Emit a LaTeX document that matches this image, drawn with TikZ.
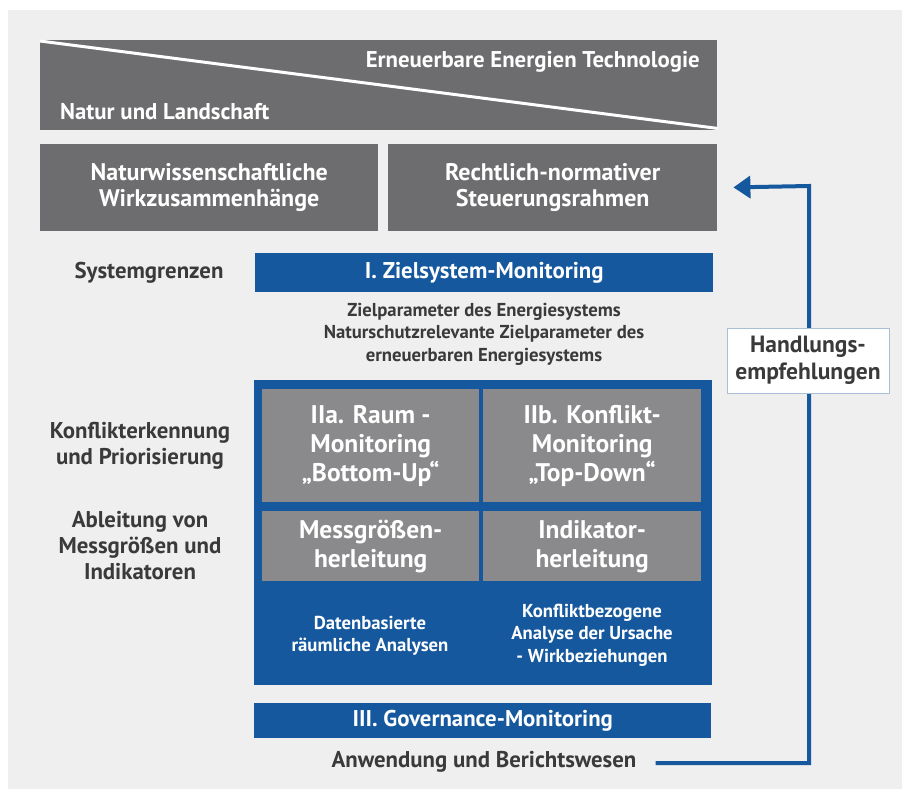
\documentclass[tikz,border=0pt]{standalone}
\usepackage{fontspec}
\setmainfont{PT Sans}
\usetikzlibrary{arrows.meta,positioning}
\definecolor{bgc}{HTML}{EFEFEF}
\definecolor{dgray}{HTML}{6D6D6F}
\definecolor{mgray}{HTML}{8A8A8C}
\definecolor{mblue}{HTML}{15589E}
\definecolor{tdark}{HTML}{3A3A3A}
\definecolor{hbord}{HTML}{A9BFD8}
\tikzset{
  darkbox/.style={fill=dgray, draw=none, inner sep=0pt, anchor=north west, text=white, align=center, font=\bfseries\fontsize{24}{26.5}\selectfont},
  graybox/.style={fill=mgray, draw=none, inner sep=0pt, anchor=north west, text=white, align=center, font=\bfseries\fontsize{25.5}{29}\selectfont},
  bluebar/.style={fill=mblue, draw=none, inner sep=0pt, anchor=north west, text=white, align=center, font=\bfseries\fontsize{22.8}{26}\selectfont},
  lbl/.style={text=tdark, align=center, inner sep=0pt, font=\bfseries\fontsize{22.8}{26}\selectfont},
  smallw/.style={text=white, align=center, inner sep=0pt, font=\bfseries\fontsize{18.7}{22.5}\selectfont},
  smalld/.style={text=tdark, align=center, inner sep=0pt, font=\bfseries\fontsize{18.7}{22.5}\selectfont},
  bantext/.style={text=white, inner sep=0pt, font=\bfseries\fontsize{22.8}{26}\selectfont},
  flow/.style={draw=mblue, line width=4pt, -{Triangle[length=17pt,width=22pt]}},
}
\begin{document}
\begin{tikzpicture}[x=1pt,y=-1pt]
\useasboundingbox (0,0) rectangle (902,789);
\fill[white] (0,0) rectangle (902,789);
\fill[bgc] (8,10) rectangle (902,789);
% banner
\node[darkbox, minimum width=677pt, minimum height=90pt] (banner) at (40,40) {};
\draw[white, line width=3pt] ([yshift=-1pt]banner.north west) -- ([yshift=2pt]banner.south east);
\node[bantext, anchor=east] (ee) at (700,62) {Erneuerbare Energien Technologie};
\node[bantext, anchor=west] (nl) at (60,112) {Natur und Landschaft};
% second row
\node[darkbox, minimum width=338pt, minimum height=87pt] (nw) at (40,144) {Naturwissenschaftliche\\Wirkzusammenhänge};
\node[darkbox, minimum width=329pt, minimum height=87pt] (rs) at (388,144) {Rechtlich-normativer\\Steuerungsrahmen};
% Zielsystem
\node[bluebar, minimum width=458pt, minimum height=39pt] (zs) at (255,253) {I. Zielsystem-Monitoring};
\node[lbl] (sg) at (149,273) {Systemgrenzen};
\node[smalld] (zp) at (484,334) {Zielparameter des Energiesystems\\Naturschutzrelevante Zielparameter des\\erneuerbaren Energiesystems};
% big blue box
\node[fill=mblue, inner sep=0pt, anchor=north west, minimum width=458pt, minimum height=305pt] (bb) at (254,380) {};
\node[graybox, minimum width=217pt, minimum height=113pt] (ra) at (262,389) {IIa. Raum -\\Monitoring\\„Bottom-Up“};
\node[graybox, minimum width=218pt, minimum height=113pt] (ko) at (483,389) {IIb. Konflikt-\\Monitoring\\„Top-Down“};
\node[graybox, minimum width=217pt, minimum height=70pt] (mg) at (262,511) {Messgrößen-\\herleitung};
\node[graybox, minimum width=218pt, minimum height=70pt] (ih) at (483,511) {Indikator-\\herleitung};
\node[smallw] (da) at (370,636) {Datenbasierte\\räumliche Analysen};
\node[smallw] (kb) at (592,635) {Konfliktbezogene\\Analyse der Ursache\\- Wirkbeziehungen};
% left labels
\node[lbl] (kp) at (140,446) {Konflikterkennung\\und Priorisierung};
\node[lbl] (am) at (140,546) {Ableitung von\\Messgrößen und\\Indikatoren};
% governance
\node[bluebar, minimum width=457pt, minimum height=35pt] (gv) at (254,703) {III. Governance-Monitoring};
\node[lbl] (anw) at (484,762) {Anwendung und Berichtswesen};
% feedback arrow
\coordinate (turn) at (809,186);
\draw[flow, shorten >=16pt] ([xshift=19pt,yshift=-1pt]anw.east) -| (turn) -- (rs.east);
\node[fill=white, draw=hbord, line width=0.8pt, inner sep=0pt, minimum width=162pt, minimum height=65pt, text=tdark, align=center, font=\bfseries\fontsize{23.5}{27}\selectfont] (he) at (808,360.5) {Handlungs-\\empfehlungen};
\end{tikzpicture}
\end{document}
